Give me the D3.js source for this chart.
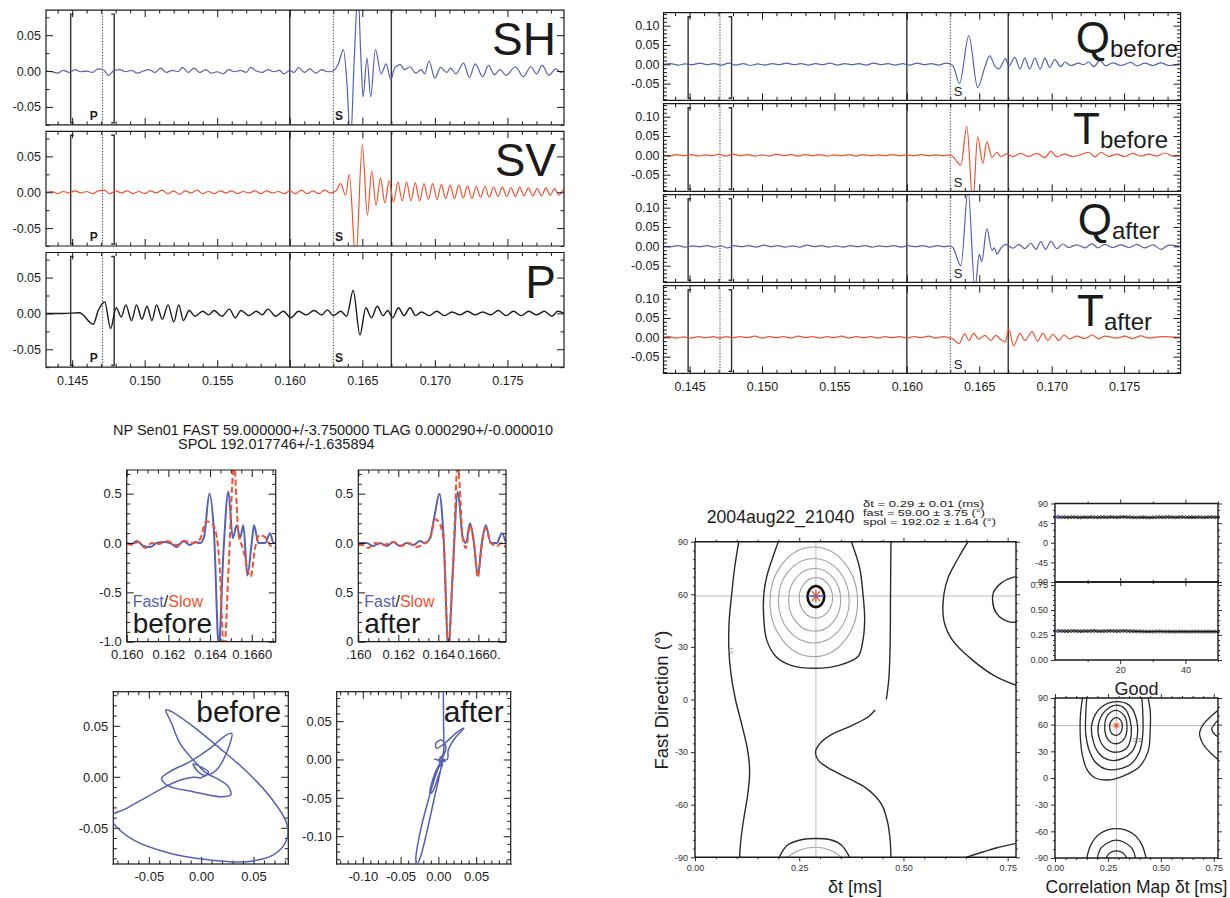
<!DOCTYPE html>
<html>
<head>
<meta charset="utf-8">
<script src="https://cdn.jsdelivr.net/npm/d3@7"></script>
<style>
  html, body { margin: 0; padding: 0; background: #ffffff; overflow: hidden; }
  svg { display: block; }
  svg text { font-family: "Liberation Sans", Arial, Helvetica, sans-serif; }
</style>
</head>
<body>
<svg id="fig" width="1230" height="898"></svg>
<script>
// ---------- seismogram traces: [time (s), amplitude] ----------
const traceDomain = [0.1432, 0.1789];

const shTrace = [[0.1432,0.000],[0.1436,-0.001],[0.1440,-0.003],[0.1444,0.001],[0.1448,-0.002],[0.1452,0.002],[0.1456,-0.001],[0.1460,0.000],[0.1464,-0.002],[0.1468,0.003],[0.1472,0.001],[0.1475,-0.006],[0.1479,0.001],[0.1483,0.002],[0.1487,-0.001],[0.1491,0.001],[0.1495,-0.003],[0.1499,0.000],[0.1503,0.002],[0.1507,-0.002],[0.1511,0.004],[0.1515,-0.002],[0.1519,0.001],[0.1523,-0.001],[0.1526,0.005],[0.1530,-0.002],[0.1534,0.004],[0.1538,-0.002],[0.1542,0.002],[0.1546,-0.003],[0.1550,-0.001],[0.1554,-0.004],[0.1558,0.002],[0.1562,-0.001],[0.1566,0.001],[0.1570,-0.002],[0.1573,0.005],[0.1577,0.000],[0.1581,-0.002],[0.1585,0.002],[0.1589,-0.001],[0.1593,0.001],[0.1596,-0.004],[0.1600,0.001],[0.1603,-0.002],[0.1606,0.005],[0.1610,-0.002],[0.1614,0.003],[0.1618,-0.003],[0.1622,0.002],[0.1626,-0.001],[0.1630,0.000],[0.16335,0.010],[0.16370,0.030],[0.16395,-0.020],[0.16418,-0.100],[0.16445,0.020],[0.16470,0.110],[0.16490,0.020],[0.16505,-0.036],[0.16532,0.018],[0.16558,-0.036],[0.16590,0.030],[0.16630,-0.004],[0.16664,0.010],[0.16696,-0.012],[0.16722,0.004],[0.16762,0.009],[0.16790,0.002],[0.16828,0.006],[0.16868,-0.003],[0.16907,0.002],[0.16930,-0.004],[0.16960,0.014],[0.17000,-0.010],[0.17040,0.005],[0.17080,-0.002],[0.17110,0.004],[0.17145,-0.004],[0.17198,0.011],[0.17238,-0.009],[0.17278,0.010],[0.17330,-0.008],[0.17370,0.008],[0.17410,-0.005],[0.17450,0.002],[0.17490,-0.006],[0.17555,0.006],[0.17610,-0.008],[0.17661,0.006],[0.17701,-0.004],[0.17740,0.008],[0.17786,-0.006],[0.17833,0.003],[0.17870,-0.002],[0.1789,0.000]];

const svTrace = [[0.1432,0.000],[0.1436,0.001],[0.1440,-0.002],[0.1444,0.001],[0.1448,-0.001],[0.1452,0.002],[0.1456,-0.001],[0.1460,0.001],[0.1464,-0.002],[0.1468,0.002],[0.1472,0.003],[0.1476,-0.002],[0.1480,0.002],[0.1484,-0.001],[0.1488,0.002],[0.1492,-0.002],[0.1496,0.001],[0.1500,-0.002],[0.1504,0.002],[0.1508,-0.001],[0.1512,0.003],[0.1516,-0.002],[0.1520,0.002],[0.1524,-0.003],[0.1528,0.002],[0.1532,-0.001],[0.1536,0.003],[0.1540,-0.002],[0.1544,0.001],[0.1548,-0.002],[0.1552,0.002],[0.1556,-0.001],[0.1560,0.002],[0.1564,-0.002],[0.1568,0.001],[0.1572,-0.001],[0.1576,0.002],[0.1580,-0.002],[0.1584,0.002],[0.1588,-0.001],[0.1592,0.001],[0.1596,-0.002],[0.1600,0.002],[0.1604,-0.002],[0.1608,0.003],[0.1612,-0.002],[0.1616,0.002],[0.1620,-0.002],[0.1624,0.003],[0.1628,-0.001],[0.1632,0.002],[0.1635,0.012],[0.16385,-0.004],[0.1641,0.025],[0.16455,-0.095],[0.16500,0.066],[0.16535,-0.032],[0.16565,0.030],[0.16595,-0.018],[0.16625,0.020],[0.16655,-0.015],[0.16685,0.016],[0.16715,-0.014],[0.16745,0.014],[0.16775,-0.012],[0.16805,0.014],[0.16835,-0.012],[0.16865,0.013],[0.16895,-0.012],[0.16925,0.012],[0.16955,-0.010],[0.16985,0.012],[0.17015,-0.010],[0.17045,0.011],[0.17075,-0.009],[0.17105,0.010],[0.17135,-0.009],[0.17165,0.010],[0.17195,-0.008],[0.17225,0.009],[0.17255,-0.009],[0.17285,0.008],[0.17315,-0.007],[0.17345,0.008],[0.17375,-0.007],[0.17405,0.007],[0.17435,-0.006],[0.17465,0.007],[0.17495,-0.006],[0.17525,0.006],[0.17555,-0.006],[0.17585,0.007],[0.17615,-0.005],[0.17645,0.006],[0.17675,-0.005],[0.17705,0.005],[0.17735,-0.005],[0.17765,0.006],[0.17795,-0.004],[0.17825,0.005],[0.17855,-0.004],[0.17885,0.003],[0.1789,0.001]];

const pTrace = [[0.1432,0.000],[0.1444,0.000],[0.1455,0.001],[0.14646,-0.015],[0.1468,0.004],[0.14725,0.016],[0.14765,-0.021],[0.14804,0.008],[0.14839,-0.005],[0.1487,0.012],[0.1491,-0.010],[0.14944,0.012],[0.14981,-0.008],[0.15016,0.010],[0.1505,-0.010],[0.15082,0.012],[0.15122,-0.008],[0.15161,0.012],[0.15201,-0.012],[0.15235,0.012],[0.15267,-0.010],[0.15307,0.004],[0.15347,-0.004],[0.1540,0.003],[0.1544,-0.002],[0.15479,0.004],[0.15532,-0.004],[0.15585,0.006],[0.15624,-0.006],[0.15664,0.004],[0.15717,-0.003],[0.1577,0.003],[0.1581,-0.002],[0.1585,0.006],[0.15903,-0.004],[0.15955,0.003],[0.16008,-0.006],[0.16061,0.003],[0.16114,-0.002],[0.16167,0.004],[0.1622,-0.002],[0.1626,0.005],[0.16299,-0.003],[0.16352,0.003],[0.16392,-0.004],[0.16437,0.032],[0.16484,-0.030],[0.16524,0.008],[0.16563,-0.006],[0.16603,0.010],[0.16643,-0.003],[0.16675,0.004],[0.16709,-0.006],[0.16749,0.008],[0.16788,-0.003],[0.16828,0.008],[0.16868,-0.003],[0.16907,0.002],[0.1696,-0.003],[0.17013,0.003],[0.17066,-0.003],[0.17119,0.002],[0.17172,-0.002],[0.17225,0.003],[0.17278,-0.002],[0.1733,0.002],[0.17384,-0.002],[0.17437,0.004],[0.1749,-0.003],[0.17542,0.003],[0.17595,-0.003],[0.17648,0.003],[0.17701,-0.002],[0.17754,0.003],[0.17807,-0.004],[0.17847,0.003],[0.1789,0.000]];

const qBeforeTrace = [[0.1432,0],[0.1437,0.002],[0.1442,-0.002],[0.1447,0.001],[0.1452,-0.001],[0.1457,0.003],[0.1462,-0.001],[0.1467,0.002],[0.1472,-0.002],[0.1477,0.003],[0.1482,-0.002],[0.1487,0.002],[0.1492,-0.003],[0.1497,0.001],[0.1502,-0.002],[0.1507,0.002],[0.1512,-0.001],[0.1517,0.003],[0.1522,-0.001],[0.1527,0.002],[0.1532,-0.002],[0.1537,0.002],[0.1542,-0.001],[0.1547,0.003],[0.1552,-0.002],[0.1557,0.002],[0.1562,-0.001],[0.1567,0.002],[0.1572,-0.002],[0.1577,0.003],[0.1582,-0.001],[0.1587,0.002],[0.1592,-0.002],[0.1597,0.002],[0.1602,-0.002],[0.1607,0.003],[0.1612,-0.001],[0.1617,0.002],[0.1622,-0.002],[0.1627,0.003],[0.16317,-0.003],[0.16364,-0.049],[0.16428,0.074],[0.16489,-0.060],[0.16538,-0.008],[0.16572,0.022],[0.16607,-0.004],[0.16635,-0.012],[0.16682,0.015],[0.16704,-0.005],[0.16746,0.018],[0.16781,-0.012],[0.16815,0.016],[0.16848,-0.012],[0.16884,0.016],[0.1692,-0.012],[0.16953,0.016],[0.16986,-0.008],[0.17021,0.012],[0.17063,-0.006],[0.17091,0.006],[0.17132,-0.003],[0.17187,0.003],[0.17220,-0.001],[0.17256,0.006],[0.1729,-0.006],[0.17334,0.010],[0.17373,-0.004],[0.17422,0.004],[0.17478,-0.003],[0.17547,0.005],[0.17588,-0.004],[0.17644,0.003],[0.17699,-0.003],[0.17754,0.004],[0.17809,-0.003],[0.1789,0.002]];

const tBeforeTrace = [[0.1432,0],[0.1436,-0.002],[0.1441,0.002],[0.1446,-0.001],[0.1451,0.002],[0.1456,-0.002],[0.1461,0.001],[0.1466,-0.001],[0.1470,0.003],[0.1475,-0.002],[0.1480,0.003],[0.1485,-0.001],[0.1490,0.002],[0.1495,-0.002],[0.1500,0.001],[0.1505,-0.002],[0.1510,0.003],[0.1515,-0.001],[0.1520,0.002],[0.1525,-0.002],[0.1530,0.002],[0.1535,-0.001],[0.1540,0.002],[0.1545,-0.002],[0.1550,0.001],[0.1555,-0.001],[0.1560,0.002],[0.1565,-0.002],[0.1570,0.002],[0.1575,-0.001],[0.1580,0.001],[0.1585,-0.001],[0.1590,0.002],[0.1595,-0.001],[0.1600,0.001],[0.1605,-0.001],[0.1610,0.002],[0.1615,-0.001],[0.1620,0.001],[0.1625,-0.001],[0.1629,0.001],[0.16317,-0.003],[0.16373,-0.025],[0.16414,0.074],[0.16456,-0.120],[0.16489,0.048],[0.16525,-0.021],[0.16552,0.035],[0.16588,-0.005],[0.16621,0.008],[0.16649,-0.003],[0.1669,0.004],[0.16732,-0.003],[0.16787,0.005],[0.16842,-0.003],[0.16897,0.005],[0.16953,-0.006],[0.16994,0.010],[0.17036,-0.004],[0.17091,0.003],[0.17146,-0.003],[0.17201,0.002],[0.17256,0.008],[0.17298,-0.004],[0.17339,0.008],[0.17395,-0.003],[0.1745,0.003],[0.17505,-0.003],[0.1756,0.005],[0.17616,-0.002],[0.17671,0.003],[0.17726,-0.002],[0.17781,0.006],[0.17837,-0.002],[0.1789,0]];

const qAfterTrace = [[0.1432,0],[0.1437,-0.001],[0.1442,0.002],[0.1447,-0.002],[0.1452,0.001],[0.1457,-0.001],[0.1462,0.002],[0.1467,-0.002],[0.1472,0.001],[0.1476,-0.004],[0.1481,0.002],[0.1486,-0.001],[0.1491,0.002],[0.1496,-0.002],[0.1501,0.003],[0.1506,-0.001],[0.1511,0.002],[0.1516,-0.002],[0.1521,0.001],[0.1526,-0.002],[0.1531,0.003],[0.1536,-0.001],[0.1541,0.002],[0.1546,-0.002],[0.1551,0.001],[0.1556,-0.002],[0.1561,0.002],[0.1566,-0.001],[0.1571,0.002],[0.1576,-0.002],[0.1581,0.001],[0.1586,-0.001],[0.1591,0.002],[0.1596,-0.002],[0.1601,0.002],[0.1606,-0.001],[0.1611,0.002],[0.1616,-0.002],[0.1621,0.002],[0.1626,-0.001],[0.1629,0.001],[0.16317,-0.003],[0.16373,-0.050],[0.16423,0.145],[0.16470,-0.110],[0.16500,-0.020],[0.16517,-0.040],[0.16552,0.045],[0.16588,-0.010],[0.16605,-0.004],[0.16621,-0.020],[0.16649,-0.005],[0.16682,0.005],[0.16732,-0.005],[0.16773,0.005],[0.16815,-0.006],[0.16856,0.008],[0.16892,-0.008],[0.16925,0.012],[0.16958,-0.008],[0.16994,0.013],[0.17036,-0.006],[0.17077,0.006],[0.17118,-0.003],[0.17174,0.004],[0.17229,-0.004],[0.17279,0.007],[0.17318,-0.004],[0.17367,0.005],[0.17422,-0.003],[0.17478,0.004],[0.17533,-0.003],[0.17588,0.005],[0.17644,-0.004],[0.17699,0.004],[0.17754,-0.008],[0.17809,0.003],[0.1789,0]];

const tAfterTrace = [[0.1432,0],[0.1436,0.002],[0.1441,-0.002],[0.1446,0.001],[0.1451,-0.002],[0.1456,0.002],[0.1461,-0.001],[0.1466,0.002],[0.1471,-0.002],[0.1475,0.002],[0.1480,-0.001],[0.1485,0.002],[0.1490,-0.001],[0.1495,0.003],[0.1500,-0.002],[0.1505,0.002],[0.1510,-0.001],[0.1515,0.002],[0.1520,-0.002],[0.1525,0.003],[0.1530,-0.001],[0.1535,0.002],[0.1540,-0.002],[0.1545,0.002],[0.1550,-0.001],[0.1555,0.003],[0.1560,-0.002],[0.1565,0.002],[0.1570,-0.001],[0.1575,0.002],[0.1580,-0.002],[0.1585,0.002],[0.1590,-0.001],[0.1595,0.002],[0.1600,-0.002],[0.1605,0.002],[0.1610,-0.001],[0.1615,0.003],[0.1620,-0.002],[0.1625,0.002],[0.1629,-0.001],[0.16317,-0.004],[0.16359,-0.016],[0.1640,0.009],[0.16428,-0.008],[0.16461,0.010],[0.16497,-0.005],[0.16538,0.005],[0.1658,-0.008],[0.16615,0.005],[0.16649,-0.006],[0.16677,-0.012],[0.16704,0.020],[0.16737,-0.022],[0.16781,0.010],[0.16815,-0.008],[0.16865,0.015],[0.16903,-0.010],[0.16939,0.010],[0.16975,-0.008],[0.17008,0.008],[0.1705,-0.008],[0.17085,0.006],[0.17124,-0.004],[0.17174,0.003],[0.17229,-0.003],[0.17279,0.006],[0.17326,-0.004],[0.17367,0.003],[0.1745,-0.002],[0.17505,0.003],[0.1756,-0.003],[0.17616,0.004],[0.17671,-0.002],[0.17754,0.002],[0.1789,0]];

// picked window and phase times (s)
const pickLines = [
  {t: 0.1449, kind: "open"}, {t: 0.1471, kind: "dot"}, {t: 0.1479, kind: "close"},
  {t: 0.1600, kind: "line"}, {t: 0.1630, kind: "dot"}, {t: 0.1670, kind: "line"}
];
const phaseP = 0.1465, phaseS = 0.1634;

// ---------- fast / slow components ----------
const fastBefore = [[0.16000,0.00],[0.16024,-0.01],[0.16048,0.02],[0.16080,-0.03],[0.16112,-0.04],[0.16144,0.00],[0.16176,0.01],[0.16208,0.00],[0.16240,-0.04],[0.16272,0.02],[0.16304,-0.02],[0.16328,0.01],[0.16352,0.00],[0.16371,0.06],[0.16397,0.50],[0.16419,0.10],[0.16442,-1.05],[0.16464,-0.10],[0.16488,0.52],[0.16509,0.05],[0.16528,0.18],[0.16544,0.05],[0.16560,0.18],[0.16579,-0.33],[0.16600,0.00],[0.16611,0.18],[0.16632,0.00],[0.16664,0.00],[0.16688,0.10],[0.16704,0.00],[0.16715,0.00]];
const slowBefore = [[0.16000,0.00],[0.16024,-0.02],[0.16056,0.01],[0.16088,-0.05],[0.16120,0.00],[0.16152,-0.01],[0.16192,0.02],[0.16240,-0.02],[0.16280,0.02],[0.16320,0.00],[0.16352,0.04],[0.16381,0.22],[0.16408,0.20],[0.16429,0.10],[0.16445,-0.20],[0.16467,-1.10],[0.16490,-0.20],[0.16515,0.80],[0.16536,0.10],[0.16557,-0.05],[0.16595,-0.34],[0.16616,-0.05],[0.16637,0.08],[0.16664,0.06],[0.16688,-0.02],[0.16715,-0.05]];
const fastAfter = [[0.16000,0.00],[0.16042,0.00],[0.16075,-0.03],[0.16108,0.00],[0.16142,-0.03],[0.16175,0.01],[0.16208,-0.03],[0.16242,0.00],[0.16275,-0.02],[0.16308,0.02],[0.16333,0.00],[0.16358,0.05],[0.16383,0.30],[0.16405,0.50],[0.16425,0.10],[0.16450,-1.05],[0.16472,-0.30],[0.16497,0.52],[0.16522,0.05],[0.16538,0.00],[0.16558,0.20],[0.16578,0.00],[0.16597,-0.33],[0.16617,0.00],[0.16637,0.18],[0.16662,0.00],[0.16692,0.00],[0.16717,0.10],[0.16738,0.00]];
const slowAfter = [[0.16000,-0.02],[0.16025,-0.02],[0.16050,-0.05],[0.16083,0.00],[0.16125,-0.02],[0.16175,0.01],[0.16217,-0.03],[0.16250,0.00],[0.16292,-0.04],[0.16333,0.00],[0.16358,0.04],[0.16383,0.24],[0.16400,0.22],[0.16425,0.05],[0.16450,-1.05],[0.16472,-0.30],[0.16497,0.80],[0.16522,0.05],[0.16538,-0.05],[0.16558,0.18],[0.16578,0.00],[0.16597,-0.35],[0.16617,-0.02],[0.16637,0.15],[0.16662,0.00],[0.16692,-0.03],[0.16717,0.00],[0.16738,-0.05]];

// ---------- particle motion (x, y) ----------
const motionBefore = [[0,0],[0.0048,0.0023],[0.0064,0.0056],[0,0.0098],[-0.008,0.0131],[-0.0048,0.0072],[0.0016,0.0023],[0.0111,0.0046],[0.0207,0.017],[0.0287,0.0431],[0.0223,0.0405],[0.008,0.0284],[-0.0111,0.0154],[-0.0303,0.0056],[-0.0382,-0.001],[-0.0318,-0.0085],[-0.008,-0.0141],[0.0175,-0.019],[0.0277,-0.0173],[0.0255,-0.0092],[0.0143,-0.001],[0.0048,0.0039],[-0.008,0.017],[-0.0207,0.0333],[-0.0287,0.0529],[-0.0341,0.066],[-0.0287,0.0644],[-0.008,0.0497],[0.0175,0.0284],[0.043,0.0056],[0.0653,-0.019],[0.0812,-0.0451],[0.0812,-0.0614],[0.0685,-0.0761],[0.043,-0.0827],[0.008,-0.081],[-0.0303,-0.0745],[-0.0653,-0.0614],[-0.0844,-0.0451],[-0.0876,-0.0386],[-0.0717,-0.0304],[-0.0462,-0.0157],[-0.0239,-0.0042],[-0.008,0],[0,-0.001]];
const motionAfter = [[0.0058,0.095],[0.0062,0.0435],[0.0058,0.0087],[0.0013,0],[0.0111,0.0009],[0.0124,0.013],[0.0212,0.0283],[0.0332,0.0413],[0.0235,0.0357],[0.0102,0.0239],[-0.0031,0.0152],[-0.004,0.0217],[0.0035,0.0261],[0.0093,0.0165],[0.0035,0],[-0.0053,-0.0174],[-0.0119,-0.0435],[-0.0084,-0.0413],[-0.0009,-0.0217],[0.0049,-0.0043],[0.0004,-0.0087],[-0.0164,-0.0609],[-0.0261,-0.1],[-0.0305,-0.1304],[-0.0288,-0.1357],[-0.0243,-0.1261],[-0.0164,-0.0957],[-0.0066,-0.0522],[0.0013,-0.0174],[0.0035,-0.0022],[0,0],[-0.006,0.001],[0.008,-0.002],[0.002,0.004],[0.001,-0.004]];

// ---------- grid search map contours: [dt (ms), fast direction (deg)] ----------
const bestDt = 0.29, bestPhi = 59;
const mapLeft = [[0.105,90],[0.095,75],[0.088,60],[0.082,45],[0.081,30],[0.086,15],[0.097,0],[0.113,-15],[0.127,-30],[0.131,-42],[0.126,-55],[0.117,-68],[0.110,-80],[0.107,-90]];
const mapMidUpper = [[0.470,90],[0.469,60],[0.468,30],[0.465,12],[0.459,0]];
const mapMidLower = [[0.432,-6],[0.415,-10],[0.375,-15],[0.327,-20],[0.300,-25],[0.289,-30],[0.297,-35],[0.327,-40],[0.368,-45],[0.407,-50],[0.432,-55],[0.448,-60],[0.462,-70],[0.468,-80],[0.470,-90]];
const mapRightArc = [[0.655,90],[0.630,80],[0.608,70],[0.597,60],[0.597,45],[0.617,34],[0.665,22.6],[0.722,13],[0.775,7.7]];
const mapRightCorner = [[0.650,-90],[0.690,-87],[0.722,-84.7],[0.775,-81.8]];
const mapRightLoop = [[0.775,70],[0.760,69.5],[0.735,66.5],[0.716,61],[0.714,56],[0.722,49.5],[0.740,45.5],[0.760,44],[0.775,44.5]];
const mapOuter = [[0.200,90],[0.185,80],[0.172,70],[0.165,60],[0.165,46],[0.172,34],[0.194,24.5],[0.230,19.5],[0.289,17.8],[0.345,19.5],[0.391,24.5],[0.403,34],[0.407,46],[0.403,60],[0.395,75],[0.375,90]];
const mapBottomOuter = [[0.202,-90],[0.222,-83],[0.255,-80],[0.289,-79.3],[0.325,-80],[0.351,-83],[0.371,-90]];
const mapBottomInner = [[0.222,-90],[0.250,-86],[0.289,-84.3],[0.325,-86],[0.351,-90]];
const mapRings = [
  {dt:0.285, phi:55.7, rdt:0.105, rphi:31.3},
  {dt:0.285, phi:56.3, rdt:0.085, rphi:24.1},
  {dt:0.287, phi:56.8, rdt:0.0625, rphi:17.9},
  {dt:0.290, phi:58.0, rdt:0.040, rphi:11.5}
];
const mapCore = {dt:0.29, phi:58.7, rdt:0.02, rphi:6};

// correlation map contours
const corrRings = [
  [[0.13,90],[0.12,70],[0.12,45],[0.13,25],[0.15,10],[0.19,0],[0.26,-2],[0.33,3],[0.40,13],[0.44,30],[0.45,55],[0.45,75],[0.44,90]],
  [[0.15,90],[0.145,70],[0.145,50],[0.16,32],[0.19,18],[0.24,10],[0.30,10],[0.36,16],[0.40,30],[0.415,50],[0.415,72],[0.41,90]]
];
const corrClosed = [
  [[0.29,86],[0.22,80],[0.175,62],[0.18,42],[0.21,27],[0.26,20],[0.32,22],[0.37,32],[0.39,50],[0.38,70],[0.35,82]],
  [[0.29,82],[0.235,75],[0.205,60],[0.21,44],[0.24,33],[0.29,29],[0.34,34],[0.36,48],[0.355,65],[0.33,78]],
  [[0.29,76],[0.25,71],[0.235,60],[0.24,48],[0.265,40],[0.30,39],[0.33,45],[0.34,57],[0.33,69]],
  [[0.29,68],[0.265,64],[0.258,57],[0.268,50],[0.29,48],[0.31,51],[0.318,58],[0.31,65]]
];
const corrBottom = [
  [[0.15,-90],[0.17,-75],[0.21,-63],[0.29,-57],[0.37,-63],[0.41,-75],[0.43,-90]],
  [[0.20,-90],[0.22,-78],[0.29,-70],[0.36,-78],[0.38,-90]],
  [[0.24,-90],[0.26,-84],[0.29,-82],[0.32,-84],[0.34,-90]]
];
const corrRight = [
  [[0.775,77],[0.74,70],[0.70,60],[0.683,50],[0.70,38],[0.74,27],[0.775,20]],
  [[0.775,66],[0.755,61],[0.74,55],[0.755,49],[0.775,46]]
];

// ---------- per-window stability results ----------
const windowPhi = [59,58.5,58.8,58.2,58.6,58.9,58.4,58.1,58.7,58.3,58.9,58.5,58.2,58.6,58.8,58.4,59.1,58.7,58.3,58.9,59.2,58.8,58.5,58.2,57.9,58.3,58.6,58.1,57.8,58.2,58.5,58.8,58.4,58.7,59,58.6,58.3,58.7,58.9,58.5,58.2,58.6,58.4,58.8,58.5,58.3,58.7,58.9,58.6,58.4];
const windowDt = [0.29,0.29,0.288,0.289,0.29,0.291,0.289,0.288,0.29,0.289,0.29,0.291,0.289,0.288,0.289,0.29,0.291,0.29,0.289,0.29,0.291,0.29,0.289,0.288,0.287,0.286,0.285,0.284,0.285,0.284,0.285,0.286,0.285,0.284,0.285,0.284,0.283,0.284,0.285,0.284,0.283,0.284,0.285,0.284,0.283,0.284,0.284,0.283,0.284,0.283];

// ---------- drawing ----------
const BLUE = "#5561b3", RED = "#f0512f", INK = "#1b1b1b";
const svg = d3.select("#fig");
svg.append("rect").attr("width", 1230).attr("height", 898).attr("fill", "#ffffff");
const defs = svg.append("defs");

let clipCount = 0;
function clipFor(x, y) {
  const id = "clip" + (clipCount++);
  const [x0, x1] = x.range(), [yb, yt] = y.range();
  defs.append("clipPath").attr("id", id).append("rect")
    .attr("x", x0).attr("y", yt).attr("width", x1 - x0).attr("height", yb - yt);
  return `url(#${id})`;
}

function styleAxis(sel, o) {
  sel.select(".domain").remove();
  sel.attr("font-size", o.fontSize || 12).attr("font-family", null);
  sel.selectAll("line").attr("stroke", o.tickColor || INK).attr("stroke-width", o.tickWidth || 1);
  sel.selectAll("text").attr("fill", o.textColor || INK);
}

function frameAxes(g, x, y, o) {
  const [x0, x1] = x.range();
  const [yb, yt] = y.range();
  const dir = o.inward ? -1 : 1;
  const inside = (s, arr) => {
    const [a, b] = d3.extent(s.domain());
    return (arr || []).filter(v => v >= a - 1e-9 && v <= b + 1e-9);
  };
  const sides = [
    {ax: d3.axisBottom, at: `translate(0,${yb})`, s: x, major: o.xMajor, minor: o.xMinor, fmt: o.xFmt},
    {ax: d3.axisTop, at: `translate(0,${yt})`, s: x, major: o.xMajor, minor: o.xMinor, fmt: null},
    {ax: d3.axisLeft, at: `translate(${x0},0)`, s: y, major: o.yMajor, minor: o.yMinor, fmt: o.yFmt},
    {ax: d3.axisRight, at: `translate(${x1},0)`, s: y, major: o.yMajor, minor: o.yMinor, fmt: null}
  ];
  sides.forEach((sd, i) => {
    const minor = inside(sd.s, sd.minor);
    if (minor.length) {
      g.append("g").attr("transform", sd.at)
        .call(sd.ax(sd.s).tickValues(minor).tickSize(dir * o.minLen).tickSizeOuter(0).tickFormat(""))
        .call(styleAxis, o);
    }
    const pad = i === 0 ? (o.xPad || 6) : (o.yPad || 5);
    g.append("g").attr("transform", sd.at)
      .call(sd.ax(sd.s).tickValues(inside(sd.s, sd.major)).tickSize(dir * o.majLen).tickSizeOuter(0)
        .tickPadding(pad).tickFormat(sd.fmt ? sd.fmt : ""))
      .call(styleAxis, o);
  });
  g.append("path").attr("d", `M${x0},${yt}H${x1}V${yb}H${x0}Z`)
    .attr("fill", "none").attr("stroke", o.frameColor || INK).attr("stroke-width", o.frameWidth || 1.2);
}

const steps = (a, b, k, div) => d3.range(a, b + 1, k).map(v => v / div);
const without = (arr, major) => arr.filter(v => !major.some(m => Math.abs(m - v) < 1e-9));

function traceLine(x, y) {
  return d3.line().x(d => x(d[0])).y(d => y(d[1])).curve(d3.curveMonotoneX);
}

function drawPicks(g, x, y) {
  const [yb, yt] = y.range();
  pickLines.forEach(p => {
    const px = x(p.t);
    if (p.kind === "dot") {
      g.append("line").attr("x1", px).attr("x2", px).attr("y1", yt).attr("y2", yb)
        .attr("stroke", "#333").attr("stroke-width", 1).attr("stroke-dasharray", "1.2,1.6");
    } else if (p.kind === "line") {
      g.append("line").attr("x1", px).attr("x2", px).attr("y1", yt).attr("y2", yb)
        .attr("stroke", "#333").attr("stroke-width", 1.4);
    } else {
      const hook = p.kind === "open" ? 3 : -3;
      g.append("path")
        .attr("d", `M${px + hook},${yt + 4}H${px}V${yb - 2}H${px + hook}`)
        .attr("fill", "none").attr("stroke", "#333").attr("stroke-width", 1.4);
    }
  });
}

// ----- top-left: SH, SV, P -----
const tlX = d3.scaleLinear().domain(traceDomain).range([46, 564]);
const tlRange = [-0.075, 0.085];
const tlPanels = [
  {label: "SH", data: shTrace, color: BLUE, top: 10.1},
  {label: "SV", data: svTrace, color: RED, top: 131.3},
  {label: "P",  data: pTrace, color: INK, top: 252.5}
];
const timeMajor = steps(145, 175, 5, 1000);
const timeMinor = without(steps(144, 178, 1, 1000), timeMajor);
tlPanels.forEach((p, i) => {
  const y = d3.scaleLinear().domain(tlRange).range([p.top + 114.7, p.top]);
  const g = svg.append("g");
  const clip = clipFor(tlX, y);
  drawPicks(g, tlX, y);
  g.append("path").datum(p.data).attr("clip-path", clip).attr("d", traceLine(tlX, y))
    .attr("fill", "none").attr("stroke", p.color).attr("stroke-width", i === 2 ? 1.4 : 1.2);
  frameAxes(g, tlX, y, {
    inward: true, majLen: 7, minLen: 3.5, fontSize: 12.5, xPad: 9, yPad: 5,
    xMajor: timeMajor, xMinor: timeMinor,
    yMajor: [-0.05, 0, 0.05], yMinor: [-0.075, -0.025, 0.025, 0.075],
    xFmt: i === 2 ? (v => v.toFixed(3)) : null, yFmt: v => v.toFixed(2)
  });
  const [yb] = y.range();
  g.append("text").attr("x", tlX(phaseP)).attr("y", yb - 5).attr("text-anchor", "middle")
    .attr("font-size", 12).attr("font-weight", "bold").attr("fill", INK).text("P");
  g.append("text").attr("x", tlX(phaseS)).attr("y", yb - 5).attr("text-anchor", "middle")
    .attr("font-size", 12).attr("font-weight", "bold").attr("fill", INK).text("S");
  g.append("text").attr("x", 556).attr("y", p.top + 45).attr("text-anchor", "end")
    .attr("font-size", 46).attr("fill", INK).text(p.label);
});

// ----- top-right: Q / T before and after -----
const trX = d3.scaleLinear().domain(traceDomain).range([663.5, 1180.6]);
const trRange = [-0.093, 0.1335];
const trPanels = [
  {main: "Q", sub: "before", data: qBeforeTrace, color: BLUE, top: 12.7, end: 1178},
  {main: "T", sub: "before", data: tBeforeTrace, color: RED, top: 103.7, end: 1168},
  {main: "Q", sub: "after", data: qAfterTrace, color: BLUE, top: 194.7, end: 1160},
  {main: "T", sub: "after", data: tAfterTrace, color: RED, top: 285.7, end: 1152}
];
const ampMinor = without(steps(-9, 13, 1, 100), [-0.05, 0, 0.05, 0.1]);
trPanels.forEach((p, i) => {
  const y = d3.scaleLinear().domain(trRange).range([p.top + 87.6, p.top]);
  const g = svg.append("g");
  const clip = clipFor(trX, y);
  drawPicks(g, trX, y);
  g.append("path").datum(p.data).attr("clip-path", clip).attr("d", traceLine(trX, y))
    .attr("fill", "none").attr("stroke", p.color).attr("stroke-width", 1.2);
  frameAxes(g, trX, y, {
    inward: true, majLen: 7, minLen: 3.5, fontSize: 12.5, xPad: 9, yPad: 4,
    xMajor: timeMajor, xMinor: timeMinor,
    yMajor: [-0.05, 0, 0.05, 0.1], yMinor: ampMinor,
    xFmt: i === 3 ? (v => v.toFixed(3)) : null, yFmt: v => v.toFixed(2)
  });
  const [yb] = y.range();
  g.append("text").attr("x", trX(phaseS) + 2).attr("y", yb - 4).attr("text-anchor", "middle")
    .attr("font-size", 13).attr("fill", INK).text("S");
  const t = g.append("text").attr("x", p.end).attr("y", p.top + 40).attr("text-anchor", "end").attr("fill", INK);
  t.append("tspan").attr("font-size", 44).text(p.main);
  t.append("tspan").attr("font-size", 24).attr("dy", 4).text(p.sub);
});

// ----- split parameters title -----
svg.append("text").attr("x", 113).attr("y", 435).attr("font-size", 14.5).attr("fill", INK)
  .text("NP Sen01 FAST 59.000000+/-3.750000 TLAG 0.000290+/-0.000010");
svg.append("text").attr("x", 178).attr("y", 449).attr("font-size", 14.5).attr("fill", INK)
  .text("SPOL 192.017746+/-1.635894");

// ----- fast / slow waveforms -----
const compPanels = [
  {fast: fastBefore, slow: slowBefore, x0: 126.7, x1: 275.7, dom: [0.160, 0.16715], word: "before",
   yLab: {"0.5": "0.5", "0": "0.0", "-0.5": "-0.5", "-1": "-1.0"},
   xLab: {"0.16": "0.160", "0.162": "0.162", "0.164": "0.164", "0.166": "0.1660"}},
  {fast: fastAfter, slow: slowAfter, x0: 358.3, x1: 506, dom: [0.160, 0.16738], word: "after",
   yLab: {"0.5": "0.5", "0": "0.0", "-0.5": "0.5", "-1": "0"},
   xLab: {"0.16": ".160", "0.162": "0.162", "0.164": "0.164", "0.166": "0.1660."}}
];
compPanels.forEach(p => {
  const x = d3.scaleLinear().domain(p.dom).range([p.x0, p.x1]);
  const y = d3.scaleLinear().domain([-1.0, 0.74]).range([641.7, 470]);
  const g = svg.append("g");
  const clip = clipFor(x, y);
  const ln = d3.line().x(d => x(d[0])).y(d => y(d[1])).curve(d3.curveMonotoneX);
  g.append("path").datum(p.fast).attr("clip-path", clip).attr("d", ln)
    .attr("fill", "none").attr("stroke", BLUE).attr("stroke-width", 2);
  g.append("path").datum(p.slow).attr("clip-path", clip).attr("d", ln)
    .attr("fill", "none").attr("stroke", RED).attr("stroke-width", 2).attr("stroke-dasharray", "6,3");
  const xMajor = [0.160, 0.162, 0.164, 0.166];
  frameAxes(g, x, y, {
    inward: true, majLen: 7, minLen: 3.5, fontSize: 13, xPad: 8, yPad: 5,
    xMajor: xMajor, xMinor: without(steps(1600, 1672, 5, 10000), xMajor),
    yMajor: [-1, -0.5, 0, 0.5], yMinor: without(steps(-10, 7, 1, 10), [-1, -0.5, 0, 0.5]),
    xFmt: v => p.xLab[String(+v.toFixed(3))], yFmt: v => p.yLab[String(+v.toFixed(1))]
  });
  const lab = g.append("text").attr("x", p.x0 + 6).attr("y", 607).attr("font-size", 16);
  lab.append("tspan").attr("fill", BLUE).text("Fast");
  lab.append("tspan").attr("fill", INK).text("/");
  lab.append("tspan").attr("fill", RED).text("Slow");
  g.append("text").attr("x", p.x0 + 6).attr("y", 633).attr("font-size", 28).attr("fill", INK).text(p.word);
});

// ----- particle motion -----
const pmPanels = [
  {data: motionBefore, x0: 113.3, x1: 288.3, xd: [-0.0844, 0.0828], yd: [-0.085, 0.0839],
   xt: [-0.05, 0, 0.05], yt: [-0.05, 0, 0.05], word: "before"},
  {data: motionAfter, x0: 336.7, x1: 510.7, xd: [-0.1352, 0.095], yd: [-0.1356, 0.089],
   xt: [-0.10, -0.05, 0, 0.05], yt: [-0.10, -0.05, 0, 0.05], word: "after"}
];
pmPanels.forEach(p => {
  const x = d3.scaleLinear().domain(p.xd).range([p.x0, p.x1]);
  const y = d3.scaleLinear().domain(p.yd).range([864, 691.7]);
  const [x0, x1] = x.range(), [yb, yt] = y.range();
  const g = svg.append("g");
  // frame and ticks drawn as thin filled bars
  const bar = (bx, by, bw, bh) => g.append("rect").attr("x", bx).attr("y", by)
    .attr("width", bw).attr("height", bh).attr("fill", INK);
  bar(x0 - 0.6, yt - 0.6, x1 - x0 + 1.2, 1.2);
  bar(x0 - 0.6, yb - 0.6, x1 - x0 + 1.2, 1.2);
  bar(x0 - 0.6, yt - 0.6, 1.2, yb - yt + 1.2);
  bar(x1 - 0.6, yt - 0.6, 1.2, yb - yt + 1.2);
  const inX = v => v >= p.xd[0] && v <= p.xd[1];
  const inY = v => v >= p.yd[0] && v <= p.yd[1];
  without(steps(-13, 9, 1, 100), p.xt).filter(inX).forEach(v => {
    bar(x(v) - 0.5, yb - 3.5, 1, 3.5); bar(x(v) - 0.5, yt, 1, 3.5);
  });
  p.xt.forEach(v => { bar(x(v) - 0.5, yb - 7, 1, 7); bar(x(v) - 0.5, yt, 1, 7); });
  without(steps(-13, 8, 1, 100), p.yt).filter(inY).forEach(v => {
    bar(x0, y(v) - 0.5, 3.5, 1); bar(x1 - 3.5, y(v) - 0.5, 3.5, 1);
  });
  p.yt.forEach(v => { bar(x0, y(v) - 0.5, 7, 1); bar(x1 - 7, y(v) - 0.5, 7, 1); });
  const clip = clipFor(x, y);
  g.append("path").datum(p.data).attr("clip-path", clip)
    .attr("d", d3.line().x(d => x(d[0])).y(d => y(d[1])).curve(d3.curveCatmullRom.alpha(0.5)))
    .attr("fill", "none").attr("stroke", BLUE).attr("stroke-width", 1.5);
  p.xt.forEach(v => g.append("text").attr("x", x(v)).attr("y", yb + 17).attr("text-anchor", "middle")
    .attr("font-size", 13).attr("fill", INK).text(v.toFixed(2)));
  p.yt.forEach(v => g.append("text").attr("x", x0 - 5).attr("y", y(v) + 4.5).attr("text-anchor", "end")
    .attr("font-size", 13).attr("fill", INK).text(v.toFixed(2)));
  g.append("text").attr("x", x1 - 7).attr("y", 722).attr("text-anchor", "end")
    .attr("font-size", 30).attr("fill", INK).text(p.word);
});

// ----- grid search map -----
const mapX = d3.scaleLinear().domain([0, 0.77]).range([695, 1016]);
const mapY = d3.scaleLinear().domain([-90, 90]).range([857.3, 541.7]);
const gmtAxis = {inward: false, majLen: 4, minLen: 2, fontSize: 9, xPad: 3, yPad: 3,
  textColor: "#333", tickColor: "#333", frameWidth: 1.4};
function drawContours(g, x, y, clip, list, color, width, closed) {
  const ln = d3.line().x(d => x(d[0])).y(d => y(d[1]))
    .curve(closed ? d3.curveCatmullRomClosed.alpha(0.5) : d3.curveCatmullRom.alpha(0.5));
  list.forEach(c => g.append("path").datum(c).attr("clip-path", clip).attr("d", ln)
    .attr("fill", "none").attr("stroke", color).attr("stroke-width", width));
}
{
  const g = svg.append("g");
  const clip = clipFor(mapX, mapY);
  g.append("line").attr("x1", mapX(bestDt)).attr("x2", mapX(bestDt)).attr("y1", mapY(90)).attr("y2", mapY(-90))
    .attr("stroke", "#bdbdbd").attr("stroke-width", 1);
  g.append("line").attr("x1", mapX(0)).attr("x2", mapX(0.77)).attr("y1", mapY(bestPhi)).attr("y2", mapY(bestPhi))
    .attr("stroke", "#bdbdbd").attr("stroke-width", 1);
  mapRings.forEach(r => g.append("ellipse").attr("clip-path", clip)
    .attr("cx", mapX(r.dt)).attr("cy", mapY(r.phi))
    .attr("rx", mapX(r.dt + r.rdt) - mapX(r.dt)).attr("ry", mapY(r.phi - r.rphi) - mapY(r.phi))
    .attr("fill", "none").attr("stroke", "#a0a0a0").attr("stroke-width", 1.1));
  drawContours(g, mapX, mapY, clip, [mapBottomInner], "#a0a0a0", 1.1, false);
  drawContours(g, mapX, mapY, clip,
    [mapLeft, mapMidUpper, mapMidLower, mapRightArc, mapRightCorner, mapRightLoop, mapOuter, mapBottomOuter],
    "#2a2a2a", 1.4, false);
  g.append("ellipse").attr("cx", mapX(mapCore.dt)).attr("cy", mapY(mapCore.phi))
    .attr("rx", mapX(mapCore.dt + mapCore.rdt) - mapX(mapCore.dt))
    .attr("ry", mapY(mapCore.phi - mapCore.rphi) - mapY(mapCore.phi))
    .attr("fill", "none").attr("stroke", "#111").attr("stroke-width", 2.6);
  const cx = mapX(bestDt), cy = mapY(bestPhi);
  g.append("path").attr("d", `M${cx - 4},${cy - 5}L${cx + 4},${cy + 5}M${cx + 4},${cy - 5}L${cx - 4},${cy + 5}M${cx},${cy - 6}V${cy + 6}`)
    .attr("fill", "none").attr("stroke", RED).attr("stroke-width", 1.3);
  g.append("path").attr("d", `M${cx - 8},${cy}H${cx + 8}`).attr("fill", "none").attr("stroke", BLUE).attr("stroke-width", 1.6);
  g.append("text").attr("transform", `translate(${mapX(0.081)},${mapY(28)}) rotate(90)`)
    .attr("text-anchor", "middle").attr("font-size", 6).attr("fill", "#888").text("10");
  frameAxes(g, mapX, mapY, Object.assign({}, gmtAxis, {
    xMajor: [0, 0.25, 0.5, 0.75], xMinor: without(steps(0, 75, 5, 100), [0, 0.25, 0.5, 0.75]),
    yMajor: [-90, -60, -30, 0, 30, 60, 90], yMinor: without(steps(-90, 90, 5, 1), [-90, -60, -30, 0, 30, 60, 90]),
    xFmt: v => v.toFixed(2), yFmt: v => String(v)
  }));
  svg.append("text").attr("x", 706.7).attr("y", 523).attr("font-size", 17.7).attr("fill", INK).text("2004aug22_21040");
  const stats = [
    {s: "\u03B4t   = 0.29 \u00B1 0.01 (ms)", w: 121},
    {s: "fast = 59.00 \u00B1 3.75 (\u00B0)", w: 122},
    {s: "spol = 192.02 \u00B1 1.64 (\u00B0)", w: 133}
  ];
  stats.forEach((d, i) => svg.append("text").attr("x", 863).attr("y", 507 + i * 8.8)
    .attr("font-size", 8.6).attr("textLength", d.w).attr("lengthAdjust", "spacingAndGlyphs")
    .attr("fill", INK).text(d.s));
  svg.append("text").attr("transform", "translate(668,700) rotate(-90)").attr("text-anchor", "middle")
    .attr("font-size", 18.5).attr("fill", INK).text("Fast Direction (\u00B0)");
  svg.append("text").attr("x", 855).attr("y", 893).attr("text-anchor", "middle")
    .attr("font-size", 18).attr("fill", INK).text("\u03B4t [ms]");
}

// ----- per-window results -----
const winX = d3.scaleLinear().domain([0, 50]).range([1055, 1218]);
const winIdx = d3.range(1, windowPhi.length + 1);
{
  const y = d3.scaleLinear().domain([-90, 90]).range([582, 503.5]);
  const g = svg.append("g");
  windowPhi.forEach((v, i) => {
    g.append("line").attr("x1", winX(winIdx[i])).attr("x2", winX(winIdx[i]))
      .attr("y1", y(v - 2)).attr("y2", y(v + 2)).attr("stroke", "#999").attr("stroke-width", 0.8);
  });
  g.append("path").datum(windowPhi).attr("d", d3.line().x((d, i) => winX(winIdx[i])).y(d => y(d)))
    .attr("fill", "none").attr("stroke", INK).attr("stroke-width", 1.2);
  windowPhi.forEach((v, i) => g.append("circle").attr("cx", winX(winIdx[i])).attr("cy", y(v)).attr("r", 1.5)
    .attr("fill", "none").attr("stroke", INK).attr("stroke-width", 0.8));
  g.append("path").attr("d", `M${winX(0) - 2},${y(bestPhi)}H${winX(0) + 4}`).attr("fill", "none").attr("stroke", BLUE).attr("stroke-width", 2.5);
  frameAxes(g, winX, y, Object.assign({}, gmtAxis, {
    xMajor: [20, 40], xMinor: [10, 30, 50], yMajor: [-90, -45, 0, 45, 90], yMinor: [-75, -60, -30, -15, 15, 30, 60, 75],
    xFmt: null, yFmt: v => String(v)
  }));
}
{
  const y = d3.scaleLinear().domain([0, 0.78]).range([660, 582]);
  const g = svg.append("g");
  windowDt.forEach((v, i) => {
    g.append("line").attr("x1", winX(winIdx[i])).attr("x2", winX(winIdx[i]))
      .attr("y1", y(v - 0.012)).attr("y2", y(v + 0.012)).attr("stroke", "#999").attr("stroke-width", 0.8);
  });
  g.append("path").datum(windowDt).attr("d", d3.line().x((d, i) => winX(winIdx[i])).y(d => y(d)))
    .attr("fill", "none").attr("stroke", INK).attr("stroke-width", 1.2);
  windowDt.forEach((v, i) => g.append("circle").attr("cx", winX(winIdx[i])).attr("cy", y(v)).attr("r", 1.5)
    .attr("fill", "none").attr("stroke", INK).attr("stroke-width", 0.8));
  g.append("path").attr("d", `M${winX(0) - 2},${y(bestDt)}H${winX(0) + 4}`).attr("fill", "none").attr("stroke", BLUE).attr("stroke-width", 2.5);
  frameAxes(g, winX, y, Object.assign({}, gmtAxis, {
    xMajor: [20, 40], xMinor: [10, 30, 50], yMajor: [0, 0.25, 0.5, 0.75], yMinor: [0.05, 0.1, 0.15, 0.2, 0.3, 0.35, 0.4, 0.45, 0.55, 0.6, 0.65, 0.7],
    xFmt: v => String(v), yFmt: v => v.toFixed(2)
  }));
  svg.append("text").attr("x", 1136.5).attr("y", 695).attr("text-anchor", "middle")
    .attr("font-size", 18).attr("fill", INK).text("Good");
}

// ----- correlation map -----
{
  const x = d3.scaleLinear().domain([0, 0.77]).range([1055, 1218]);
  const y = d3.scaleLinear().domain([-90, 90]).range([858, 698]);
  const g = svg.append("g");
  const clip = clipFor(x, y);
  g.append("line").attr("x1", x(bestDt)).attr("x2", x(bestDt)).attr("y1", y(90)).attr("y2", y(-90))
    .attr("stroke", "#bdbdbd").attr("stroke-width", 1);
  g.append("line").attr("x1", x(0)).attr("x2", x(0.77)).attr("y1", y(bestPhi)).attr("y2", y(bestPhi))
    .attr("stroke", "#bdbdbd").attr("stroke-width", 1);
  drawContours(g, x, y, clip, corrRings.concat(corrBottom, corrRight), "#2a2a2a", 1.3, false);
  drawContours(g, x, y, clip, corrClosed, "#2a2a2a", 1.3, true);
  g.append("circle").attr("cx", x(bestDt)).attr("cy", y(bestPhi)).attr("r", 3.2).attr("fill", "#f3a08f");
  g.append("circle").attr("cx", x(bestDt)).attr("cy", y(bestPhi)).attr("r", 1.6).attr("fill", RED);
  g.append("text").attr("x", x(0.37)).attr("y", y(40)).attr("font-size", 6).attr("fill", "#777").text("0.5");
  frameAxes(g, x, y, Object.assign({}, gmtAxis, {
    xMajor: [0, 0.25, 0.5, 0.75], xMinor: without(steps(0, 75, 5, 100), [0, 0.25, 0.5, 0.75]),
    yMajor: [-90, -60, -30, 0, 30, 60, 90], yMinor: without(steps(-90, 90, 10, 1), [-90, -60, -30, 0, 30, 60, 90]),
    xFmt: v => v.toFixed(2), yFmt: v => String(v)
  }));
  svg.append("text").attr("x", 1136.5).attr("y", 893).attr("text-anchor", "middle")
    .attr("font-size", 17.5).attr("fill", INK).text("Correlation Map \u03B4t [ms]");
}
</script>
</body>
</html>
